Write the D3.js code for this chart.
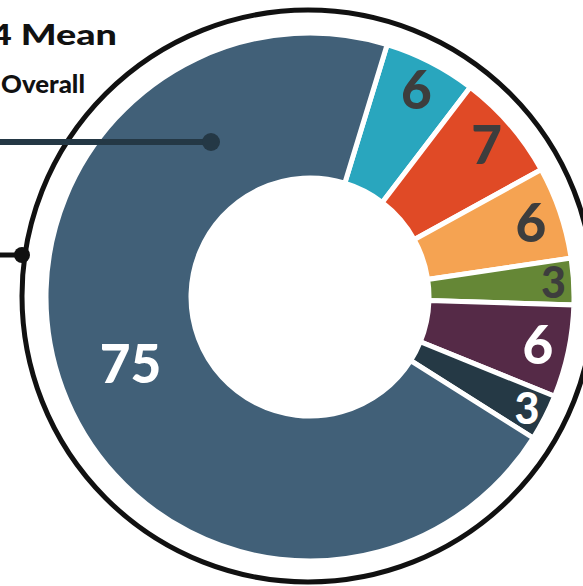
<!DOCTYPE html>
<html>
<head>
<meta charset="utf-8">
<script src="https://cdn.jsdelivr.net/npm/d3@7"></script>
<style>
  html, body { margin: 0; padding: 0; background: #ffffff; overflow: hidden; }
  svg { display: block; }
</style>
</head>
<body>
<div id="chart"></div>
<script>
// ---- data ----
const categories = ["Segment 1", "Segment 2", "Segment 3", "Segment 4", "Segment 5", "Segment 6", "Segment 7"];
const values = [6, 7, 6, 3, 6, 3, 75];
const colors = ["#29a6be", "#e04a26", "#f5a352", "#658736", "#552a47", "#253945", "#416078"];
const labelColors = ["#3d3d3d", "#3d3d3d", "#3d3d3d", "#3d3d3d", "#ffffff", "#ffffff", "#ffffff"];
const titleText = "4 Mean";
const subtitleText = "Overall";

// ---- layout ----
const W = 583, H = 586;
const cx = 310, cy = 297;
const innerR = 119, outerR = 264, ringR = 286;
const startDeg = 17;

const svg = d3.select("#chart").append("svg")
  .attr("width", W).attr("height", H);

// outer ring
svg.append("circle")
  .attr("cx", cx - 2).attr("cy", cy - 1).attr("r", ringR)
  .attr("fill", "none").attr("stroke", "#111111").attr("stroke-width", 5);

const pie = d3.pie().sort(null).value(d => d)
  .startAngle(startDeg * Math.PI / 180)
  .endAngle(startDeg * Math.PI / 180 + 2 * Math.PI);

const arc = d3.arc().innerRadius(innerR).outerRadius(outerR);
const arcs = pie(values);

const g = svg.append("g").attr("transform", `translate(${cx},${cy})`);

g.selectAll("path.slice").data(arcs).enter().append("path")
  .attr("class", "slice")
  .attr("d", arc)
  .attr("fill", (d, i) => colors[i])
  .attr("stroke", "#ffffff")
  .attr("stroke-width", 5)
  .attr("stroke-linejoin", "miter");

const midLabelArc = d3.arc().innerRadius(233).outerRadius(233);
const thinLabelArc = d3.arc().innerRadius(244).outerRadius(244);

g.selectAll("text.val").data(arcs).enter().append("text")
  .attr("class", "val")
  .attr("transform", d => {
    const p = d.data >= 50 ? arc.centroid(d)
      : (d.data >= 5 ? midLabelArc.centroid(d) : thinLabelArc.centroid(d));
    return `translate(${p[0]},${p[1]})`;
  })
  .attr("text-anchor", "middle")
  .attr("dy", "0.36em")
  .attr("font-family", "Lato, 'DejaVu Sans', sans-serif")
  .attr("font-weight", 900)
  .attr("font-size", d => d.data >= 5 ? 53 : 43)
  .attr("fill", (d, i) => labelColors[i])
  .text(d => d.data);

// title texts
svg.append("text")
  .attr("x", -10).attr("y", 45)
  .attr("font-family", "Lato, 'DejaVu Sans', sans-serif")
  .attr("font-weight", 900)
  .attr("font-size", 29)
  .attr("fill", "#111111")
  .attr("textLength", 127)
  .attr("lengthAdjust", "spacingAndGlyphs")
  .text(titleText);

svg.append("text")
  .attr("x", 1).attr("y", 93)
  .attr("font-family", "Lato, 'DejaVu Sans', sans-serif")
  .attr("font-weight", 900)
  .attr("font-size", 24)
  .attr("fill", "#111111")
  .attr("textLength", 84)
  .attr("lengthAdjust", "spacingAndGlyphs")
  .text(subtitleText);

// leader lines
svg.append("line")
  .attr("x1", 0).attr("y1", 142).attr("x2", 211).attr("y2", 142)
  .attr("stroke", "#243845").attr("stroke-width", 6);
svg.append("circle")
  .attr("cx", 211).attr("cy", 142).attr("r", 9)
  .attr("fill", "#243845");

svg.append("line")
  .attr("x1", 0).attr("y1", 255).attr("x2", 22).attr("y2", 255)
  .attr("stroke", "#111111").attr("stroke-width", 5);
svg.append("circle")
  .attr("cx", 22).attr("cy", 255).attr("r", 8)
  .attr("fill", "#111111");
</script>
</body>
</html>
